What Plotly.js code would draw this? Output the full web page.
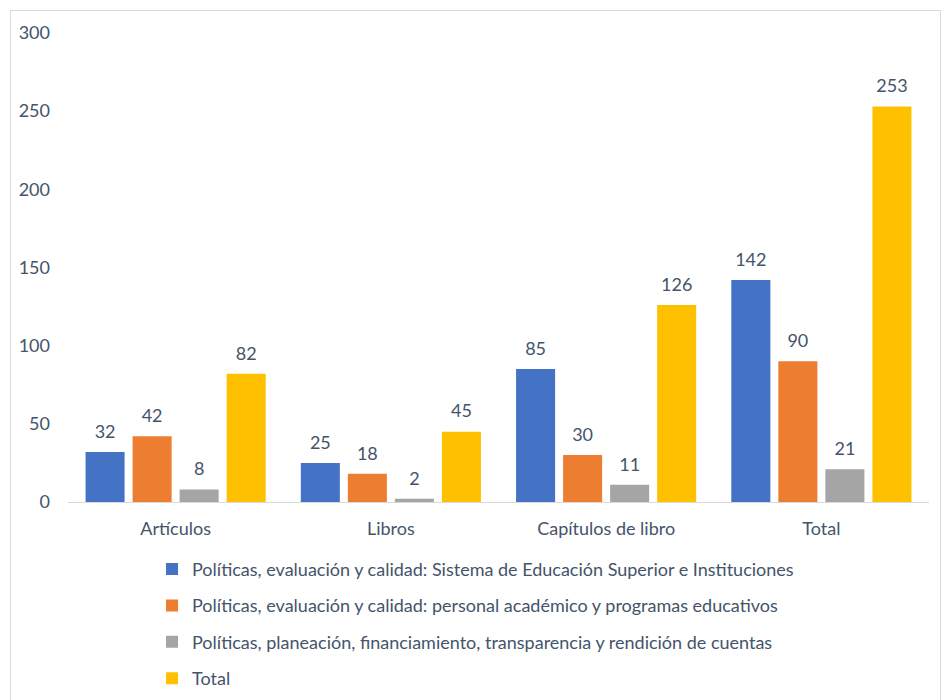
<!DOCTYPE html>
<html>
<head>
<meta charset="utf-8">
<script src="https://cdn.plot.ly/plotly-3.0.1.min.js"></script>
<style>
  html, body { margin: 0; padding: 0; background: #fff; }
  #wrap { position: relative; width: 944px; height: 700px; overflow: hidden; }
  #chart { width: 944px; height: 700px; }
  #frame { position: absolute; left: 10px; top: 10px; width: 931px; height: 700px; border: 1px solid #D9D9D9; box-sizing: border-box; pointer-events: none; }
</style>
</head>
<body>
<div id="wrap">
  <div id="chart"></div>
  <div id="frame"></div>
</div>
<script>
const categories = ["Artículos", "Libros", "Capítulos de libro", "Total"];
const seriesNames = [
  "Políticas, evaluación y calidad: Sistema de Educación Superior e Instituciones",
  "Políticas, evaluación y calidad: personal académico y programas educativos",
  "Políticas, planeación, financiamiento, transparencia y rendición de cuentas",
  "Total"
];
const sistemaValues = [32, 25, 85, 142];
const personalValues = [42, 18, 30, 90];
const planeacionValues = [8, 2, 11, 21];
const totalValues = [82, 45, 126, 253];
const yTicks = [0, 50, 100, 150, 200, 250, 300];

const seriesValues = [sistemaValues, personalValues, planeacionValues, totalValues];
const colors = ["#4472C4", "#ED7D31", "#A5A5A5", "#FFC000"];
const font = "Lato, 'Open Sans', sans-serif";
const textColor = "#44546A";
const fs = 18;

const traces = [];
seriesValues.forEach((vals, i) => {
  traces.push({
    type: "bar",
    name: seriesNames[i],
    x: categories,
    y: vals,
    marker: { color: colors[i] },
    offsetgroup: "g" + i,
    legendgroup: "lg" + i,
    hoverinfo: "skip"
  });
});
seriesValues.forEach((vals, i) => {
  traces.push({
    type: "scatter",
    mode: "markers+text",
    x: categories,
    y: vals,
    text: vals.map(String),
    textposition: "top center",
    textfont: { family: font, size: fs, color: textColor },
    marker: { size: 14, color: "rgba(0,0,0,0)" },
    offsetgroup: "g" + i,
    showlegend: false,
    hoverinfo: "skip",
    cliponaxis: false
  });
});

const layout = {
  width: 944,
  height: 700,
  margin: { l: 68, r: 15, t: 33, b: 198, autoexpand: false },
  paper_bgcolor: "#ffffff",
  plot_bgcolor: "#ffffff",
  font: { family: font, size: fs, color: textColor },
  barmode: "group",
  bargap: 0.126,
  bargroupgap: 0.17,
  scattermode: "group",
  scattergap: 0.126,
  xaxis: {
    type: "category",
    showline: true,
    linecolor: "#D9D9D9",
    linewidth: 1,
    ticks: "",
    showgrid: false,
    zeroline: false,
    automargin: false,
    tickfont: { family: font, size: fs, color: textColor },
    ticklabelstandoff: 10
  },
  yaxis: {
    range: [0, 300],
    tickvals: yTicks,
    ticktext: yTicks.map(String),
    showgrid: false,
    zeroline: false,
    showline: false,
    automargin: false,
    ticks: "",
    tickfont: { family: font, size: fs, color: textColor },
    ticklabelstandoff: 17
  },
  showlegend: true,
  legend: {
    orientation: "v",
    x: 0.0976,
    xanchor: "left",
    y: -0.104,
    yanchor: "top",
    tracegroupgap: 10,
    font: { family: font, size: fs, color: textColor },
    bgcolor: "rgba(0,0,0,0)"
  }
};

Plotly.newPlot("chart", traces, layout, { displayModeBar: false, staticPlot: true });
</script>
</body>
</html>
